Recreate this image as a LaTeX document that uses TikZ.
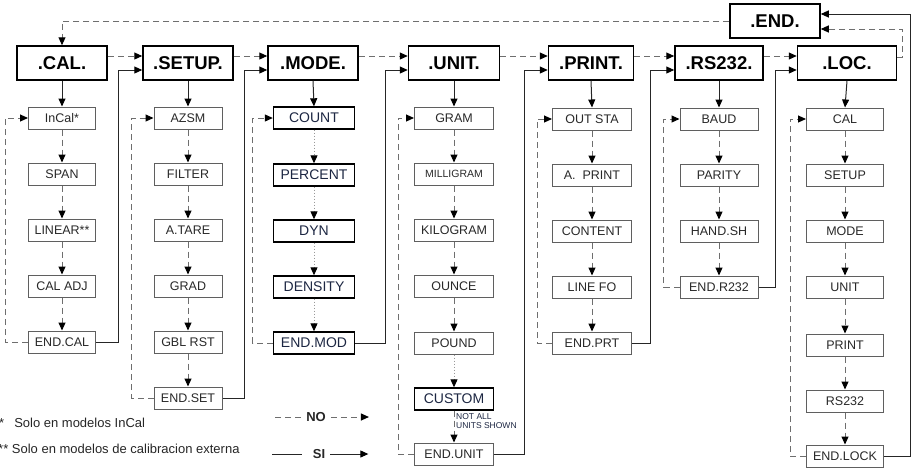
\documentclass[tikz,border=0pt]{standalone}
\usepackage{fontspec}
\setmainfont{Liberation Sans}
\usetikzlibrary{arrows.meta}

\definecolor{boxgray}{RGB}{95,95,95}
\definecolor{txtgray}{RGB}{40,40,40}
\definecolor{navy}{RGB}{28,38,66}
\definecolor{linegray}{RGB}{110,110,110}

\begin{document}
\begin{tikzpicture}[x=1pt,y=-1pt,
    >={Triangle[length=8pt,width=7pt,black]},
    head/.style={draw,line width=1.5pt,minimum width=#1,minimum height=34pt,
                 inner sep=0pt,font=\bfseries\fontsize{18.5}{20}\selectfont},
    head/.default=90pt,
    item/.style={draw=boxgray,line width=1pt,minimum width=#1,minimum height=22pt,
                 inner sep=4pt,text=txtgray,font=\fontsize{12.5}{14}\selectfont},
    item/.default=78pt,
    itembold/.style={item=#1,draw=black,line width=1.4pt,text=navy,
                     font=\fontsize{14}{16}\selectfont},
    itembold/.default=81pt,
    no/.style={draw=linegray,dash pattern=on 6pt off 4pt,line width=1pt},
    si/.style={draw=black!85,line width=1pt},
    dotline/.style={draw=linegray!70,dash pattern=on 1.5pt off 1.5pt,line width=1pt},
    legend/.style={inner sep=0pt,text=black!85,font=\fontsize{13}{15}\selectfont}]

\useasboundingbox (0,0) rectangle (912,467);

% main menu
\node[head] (cal) at (62,63) {.CAL.};
\node[head] (setup) at (188,63) {.SETUP.};
\node[head] (mode) at (313,63) {.MODE.};
\node[head=91pt] (unit) at (454,63) {.UNIT.};
\node[head=85pt] (print) at (591,63) {.PRINT.};
\node[head=88pt] (rs) at (719,63) {.RS232.};
\node[head=99pt] (loc) at (847,63) {.LOC.};
\node[head] (end) at (775,21) {.END.};

% CAL
\node[item=67pt] (incal) at (62,118) {InCal*};
\node[item=67pt] (span) at (62,174) {SPAN};
\node[item=67pt] (linear) at (62,230) {LINEAR**};
\node[item=67pt] (caladj) at (62,286) {CAL ADJ};
\node[item=67pt] (endcal) at (62,342) {END.CAL};

% SETUP
\node[item=68pt] (azsm) at (188,118) {AZSM};
\node[item=68pt] (filter) at (188,174) {FILTER};
\node[item=68pt] (atare) at (188,230) {A.TARE};
\node[item=68pt] (grad) at (188,286) {GRAD};
\node[item=68pt] (gblrst) at (188,342) {GBL RST};
\node[item=68pt] (endset) at (188,398) {END.SET};

% MODE
\node[itembold] (count) at (314,118) {COUNT};
\node[itembold] (percent) at (314,175) {PERCENT};
\node[itembold] (dyn) at (314,231) {DYN};
\node[itembold] (density) at (314,287) {DENSITY};
\node[itembold] (endmod) at (314,343) {END.MOD};

% UNIT
\node[item=79pt] (gram) at (454,118) {GRAM};
\node[item=79pt,font=\fontsize{10.5}{12}\selectfont] (mgram) at (454,174) {MILLIGRAM};
\node[item=79pt] (kgram) at (454,230) {KILOGRAM};
\node[item=79pt] (ounce) at (454,286) {OUNCE};
\node[item=79pt] (pound) at (454,343) {POUND};
\node[itembold=79pt] (custom) at (454,399) {CUSTOM};
\node[item=79pt] (endunit) at (454,454) {END.UNIT};
\node[inner sep=0pt,anchor=west,align=left,text=navy,
      font=\fontsize{8.5}{9.5}\selectfont] (notall) at (456,421) {NOT ALL\\UNITS SHOWN};

% PRINT
\node[item=79pt] (outsta) at (592,119) {OUT STA};
\node[item=79pt] (aprint) at (592,175) {A.\ \ PRINT};
\node[item=79pt] (content) at (592,231) {CONTENT};
\node[item=79pt] (linefo) at (592,287) {LINE FO};
\node[item=79pt] (endprt) at (592,343) {END.PRT};

% RS232
\node[item] (baud) at (719,119) {BAUD};
\node[item] (parity) at (719,175) {PARITY};
\node[item] (handsh) at (719,231) {HAND.SH};
\node[item] (endrs) at (719,287) {END.R232};

% LOC
\node[item=77pt] (lcal) at (845,119) {CAL};
\node[item=77pt] (lsetup) at (845,175) {SETUP};
\node[item=77pt] (lmode) at (845,231) {MODE};
\node[item=77pt] (lunit) at (845,287) {UNIT};
\node[item=77pt] (lprint) at (845,345) {PRINT};
\node[item=77pt] (lrs) at (845,401) {RS232};
\node[item=77pt] (endlock) at (845,456) {END.LOCK};

% NO between main menus
\draw[no,->] (end.west) -| (cal.north);
\draw[no,->] ([yshift=7pt]cal.east) -- ([yshift=7pt]setup.west);
\draw[no,->] ([yshift=7pt]setup.east) -- ([yshift=7pt]mode.west);
\draw[no,->] ([yshift=7pt]mode.east) -- ([yshift=7pt]unit.west);
\draw[no,->] ([yshift=7pt]unit.east) -- ([yshift=7pt]print.west);
\draw[no,->] ([yshift=7pt]print.east) -- ([yshift=7pt]rs.west);
\draw[no,->] ([yshift=7pt]rs.east) -- ([yshift=7pt]loc.west);
\draw[no,->] ([yshift=6pt]loc.east) -- ++(5,0) |- ([yshift=-8pt]end.east);

% SI into sub menus
\draw[si,->] (cal.south) -- (incal.north);
\draw[si,->] (setup.south) -- (azsm.north);
\draw[si,->] (mode.south) -- (count.north);
\draw[si,->] (unit.south) -- (gram.north);
\draw[si,->] (print.south) -- (outsta.north);
\draw[si,->] (rs.south) -- (baud.north);
\draw[si,->] (loc.south) -- (lcal.north);

% NO down the columns
\path[->] (incal) edge[no] (span) (span) edge[no] (linear)
          (linear) edge[no] (caladj) (caladj) edge[no] (endcal);
\path[->] (azsm) edge[no] (filter) (filter) edge[no] (atare) (atare) edge[no] (grad)
          (grad) edge[no] (gblrst) (gblrst) edge[no] (endset);
\path[->] (count) edge[dotline] (percent) (percent) edge[dotline] (dyn)
          (dyn) edge[dotline] (density) (density) edge[dotline] (endmod);
\path[->] (gram) edge[no] (mgram) (mgram) edge[no] (kgram) (kgram) edge[no] (ounce)
          (ounce) edge[no] (pound) (pound) edge[dotline] (custom) (custom) edge[no] (endunit);
\path[->] (outsta) edge[no] (aprint) (aprint) edge[no] (content)
          (content) edge[no] (linefo) (linefo) edge[no] (endprt);
\path[->] (baud) edge[no] (parity) (parity) edge[no] (handsh) (handsh) edge[no] (endrs);
\path[->] (lcal) edge[no] (lsetup) (lsetup) edge[no] (lmode) (lmode) edge[no] (lunit)
          (lunit) edge[no] (lprint) (lprint) edge[no] (lrs) (lrs) edge[no] (endlock);

% NO back to the top of each column
\draw[no,->] (endcal.west) -- ++(-23,0) |- (incal.west);
\draw[no,->] (endset.west) -- ++(-22,0) |- (azsm.west);
\draw[no,->] (endmod.west) -- ++(-20,0) |- (count.west);
\draw[no,->] (endunit.west) -- ++(-16,0) |- (gram.west);
\draw[no,->] (endprt.west) -- ++(-15,0) |- (outsta.west);
\draw[no,->] (endrs.west) -- ++(-16,0) |- (baud.west);
\draw[no,->] (endlock.west) -- ++(-16,0) |- (lcal.west);

% SI on to the next main menu
\draw[si,->] (endcal.east) -- ++(22,0) |- ([yshift=-7pt]setup.west);
\draw[si,->] (endset.east) -- ++(22,0) |- ([yshift=-7pt]mode.west);
\draw[si,->] (endmod.east) -- ++(30,0) |- ([yshift=-7pt]unit.west);
\draw[si,->] (endunit.east) -- ++(30,0) |- ([yshift=-7pt]print.west);
\draw[si,->] (endprt.east) -- ++(18,0) |- ([yshift=-7pt]rs.west);
\draw[si,->] (endrs.east) -- ++(17,0) |- ([yshift=-7pt]loc.west);
\draw[si,->] (endlock.east) -- ++(26,0) |- ([yshift=7pt]end.east);

% notes and legend
\node[legend,anchor=west] (foot1) at (-1,423) {*\hspace{10pt}Solo en modelos InCal};
\node[legend,anchor=west] (foot2) at (-2,449) {** Solo en modelos de calibracion externa};
\node[legend,font=\bfseries\fontsize{13}{15}\selectfont] (nolbl) at (316,417) {NO};
\draw[no] ([xshift=-5pt]nolbl.west) -- ++(-28,0);
\draw[no,->] ([xshift=5pt]nolbl.east) -- ++(38,0);
\node[legend,font=\bfseries\fontsize{13}{15}\selectfont] (silbl) at (319,454) {SI};
\draw[si] ([xshift=-11pt]silbl.west) -- ++(-30,0);
\draw[si,->] ([xshift=5pt]silbl.east) -- ++(38,0);

\end{tikzpicture}
\end{document}
